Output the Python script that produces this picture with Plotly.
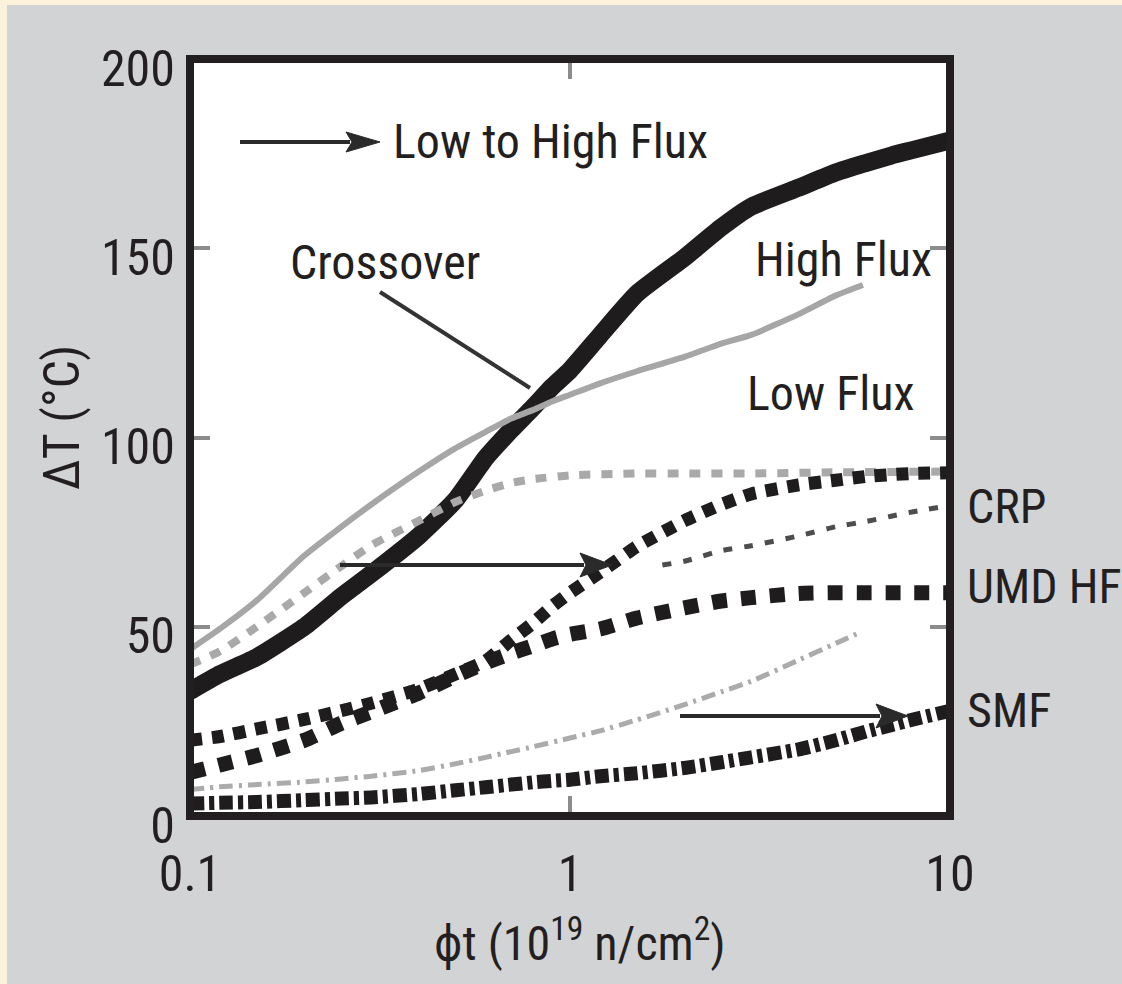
import plotly.graph_objects as go

# ---------------- data ----------------
x_main = [0.1, 0.12, 0.15, 0.2, 0.25, 0.3, 0.4, 0.5, 0.6, 0.7, 0.8, 0.9, 1.0,
          1.2, 1.5, 2, 2.5, 3, 4, 5, 6, 7, 8, 10]
low_to_high = [33, 37.5, 42, 50, 58, 64, 74, 83.5, 94.6, 102, 108, 113.5, 117.8,
               127, 138, 147.5, 155.5, 161, 166, 170, 172.5, 174.5, 176, 178.5]

x_high = [0.1, 0.12, 0.15, 0.2, 0.25, 0.3, 0.4, 0.5, 0.6, 0.7, 0.8, 0.9, 1.0,
          1.2, 1.5, 2, 2.5, 3, 4, 5, 5.9]
high_flux = [44, 49.5, 57, 68.8, 76.4, 82.3, 91, 97.2, 101.5, 105, 107.3, 109.6, 111.3,
             114.3, 117.5, 121.3, 124.8, 127.1, 132.6, 137.5, 140.3]

x_low = [0.1, 0.12, 0.15, 0.2, 0.25, 0.3, 0.4, 0.5, 0.6, 0.7, 0.8, 1.0, 1.5, 2, 3, 5, 10]
low_flux = [40, 43.5, 50, 59, 66, 71.5, 78, 83, 86, 88, 89, 90, 90.5, 90.5, 90.5, 90.8, 91]

crp_shift = [20, 21, 23, 25.5, 27.8, 29.8, 33.5, 37.5, 41, 46.5, 51, 55.5, 59,
             64.4, 71.2, 78, 82.3, 85.1, 87.5, 88.7, 89.7, 90.2, 90.5, 90.7]
umd_hf = [11.5, 13.5, 16, 20, 24.5, 27.5, 32.5, 37, 40.5, 43, 45, 46.8, 48,
          49.4, 52.3, 55, 56.8, 57.7, 58.8, 59, 59, 59, 59, 59]

x_crp = [1.75, 2, 2.5, 3, 4, 5, 6, 7, 8, 10]
crp = [66.3, 67.3, 70.1, 71.4, 74, 76.4, 77.8, 79.2, 80.4, 82]

x_smf_low = [0.1, 0.12, 0.15, 0.2, 0.25, 0.3, 0.4, 0.5, 0.6, 0.7, 0.8, 1.0, 1.2,
             1.5, 2, 2.5, 3, 4, 5, 5.8]
smf_low = [7, 7.7, 8.3, 9, 9.8, 10.5, 12, 13.8, 15.5, 17, 18.3, 20.6, 22.5,
           25.4, 29.4, 32.8, 35.6, 41.2, 45.6, 48.5]

smf = [3.3, 3.5, 3.7, 4.2, 4.6, 4.9, 5.8, 6.8, 7.6, 8.3, 8.9, 9.3, 9.6,
       10.5, 11.3, 12.7, 14.2, 15.5, 17.6, 20, 22.3, 24, 25.5, 27.8]

x_ticks = [0.1, 1, 10]
x_tick_text = ["0.1", "1", "10"]
y_ticks = [0, 50, 100, 150, 200]

# ---------------- layout constants ----------------
W, H = 1122, 984
ML, MR, MT, MB = 190, 172, 59, 168
PW, PH = W - ML - MR, H - MT - MB
FONT = "Liberation Sans Narrow, Arial Narrow, Roboto Condensed, DejaVu Sans Condensed, sans-serif"
INK = "#231f20"
BG = "#d2d3d5"
BEIGE = "#fcf1da"


def px(xp):
    return (xp - ML) / PW


def py(yp):
    return (H - MB - yp) / PH


fig = go.Figure()

def add(x, y, color, width, dash="solid"):
    fig.add_trace(go.Scatter(x=x, y=y, mode="lines",
                             line=dict(color=color, width=width, dash=dash,
                                       shape="spline", smoothing=0.5),
                             hoverinfo="skip", showlegend=False))

add(x_main, low_to_high, "#1f1c1d", 18)
add(x_high, high_flux, "#a6a6a6", 6)
add(x_low, low_flux, "#a9a9a9", 8, "11px,11px")
add(x_main, crp_shift, "#1f1c1d", 13, "12px,10px")
add(x_main, umd_hf, "#1f1c1d", 15, "15px,14px")
add(x_crp, crp, "#4d4d4d", 5, "9px,12px")
add(x_smf_low, smf_low, "#ababab", 5, "14px,6px,3px,6px")
add(x_main, smf, "#1f1c1d", 14, "14px,5px,5px,5px")

shapes = []
# beige edge strips
shapes.append(dict(type="rect", xref="paper", yref="paper", x0=px(0), x1=px(7), y0=py(H), y1=py(0),
                   fillcolor=BEIGE, line=dict(width=0), layer="below"))
shapes.append(dict(type="rect", xref="paper", yref="paper", x0=px(0), x1=px(W), y0=py(5), y1=py(0),
                   fillcolor=BEIGE, line=dict(width=0), layer="below"))


def arrow(x0, x1, y, head_len, half_w, color="#2a2a2a", width=4):
    shapes.append(dict(type="line", xref="paper", yref="paper",
                       x0=px(x0), x1=px(x1 - head_len + 4), y0=py(y), y1=py(y),
                       line=dict(color=color, width=width)))
    path = "M {},{} L {},{} L {},{} L {},{} Z".format(
        px(x1), py(y), px(x1 - head_len), py(y - half_w),
        px(x1 - head_len + 6), py(y), px(x1 - head_len), py(y + half_w))
    shapes.append(dict(type="path", xref="paper", yref="paper", path=path,
                       fillcolor=color, line=dict(color=color, width=1)))


arrow(240, 380, 142, 34, 10)
arrow(340, 612, 565, 32, 12)
arrow(680, 908, 716, 32, 12)
# crossover pointer
shapes.append(dict(type="line", xref="paper", yref="paper",
                   x0=px(380), y0=py(292), x1=px(530), y1=py(388),
                   line=dict(color="#333333", width=4)))
# frame
shapes.append(dict(type="rect", xref="paper", yref="paper", x0=0, x1=1, y0=0, y1=1,
                   line=dict(color=INK, width=8), layer="above"))

annotations = []


def label(text, xl, yc, anchor="left", size=48):
    annotations.append(dict(text=text, xref="paper", yref="paper", x=px(xl), y=py(yc),
                            xanchor=anchor, yanchor="middle", showarrow=False,
                            font=dict(family=FONT, size=size, color=INK)))


label("Low to High Flux", 391, 141)
label("Crossover", 288, 262)
label("High Flux", 753, 259)
label("Low Flux", 745, 393)
label("CRP", 965, 506)
label("UMD HF", 965, 586)
label("SMF", 965, 710)
label("ϕt (10<sup>19</sup> n/cm<sup>2</sup>)", 580, 940, anchor="center", size=48)
annotations.append(dict(text="ΔT (°C)", xref="paper", yref="paper", x=px(62), y=py(418),
                        xanchor="center", yanchor="middle", textangle=-90, showarrow=False,
                        font=dict(family=FONT, size=50, color=INK)))

fig.update_layout(
    width=W, height=H, autosize=False,
    margin=dict(l=ML, r=MR, t=MT, b=MB, pad=0),
    paper_bgcolor=BG, plot_bgcolor="white",
    shapes=shapes, annotations=annotations,
    showlegend=False,
    xaxis=dict(type="log", range=[-1, 1], tickvals=x_ticks, ticktext=x_tick_text,
               ticks="inside", ticklen=20, tickwidth=4, tickcolor="#8c8c8c",
               mirror="ticks", showline=False, showgrid=False, zeroline=False,
               ticklabelstandoff=24,
               tickfont=dict(family=FONT, size=50, color=INK)),
    yaxis=dict(range=[0, 200], tickvals=y_ticks,
               ticks="inside", ticklen=20, tickwidth=4, tickcolor="#8c8c8c",
               mirror="ticks", showline=False, showgrid=False, zeroline=False,
               ticklabelstandoff=14, ticklabelshift=9,
               tickfont=dict(family=FONT, size=50, color=INK)),
)

fig.write_html("out.html", config={"displayModeBar": False})
